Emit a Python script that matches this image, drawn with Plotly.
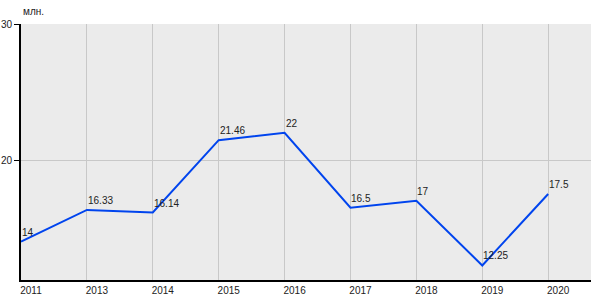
import plotly.graph_objects as go

years = ["2011", "2013", "2014", "2015", "2016", "2017", "2018", "2019", "2020"]
values = [14, 16.33, 16.14, 21.46, 22, 16.5, 17, 12.25, 17.5]
labels = ["14", "16.33", "16.14", "21.46", "22", "16.5", "17", "12.25", "17.5"]
unit = "млн."

fig = go.Figure()
fig.add_trace(go.Scatter(
    x=years, y=values, mode="lines",
    line=dict(color="#0044ee", width=2),
    cliponaxis=False, hoverinfo="skip",
))

annos = [dict(x=i, y=yv, text=t, xref="x", yref="y", xanchor="left", yanchor="bottom",
              xshift=-1, yshift=2, showarrow=False,
              font=dict(family="Liberation Sans, Arial", size=10, color="#222222"))
         for i, (yv, t) in enumerate(zip(values, labels))]
annos.append(dict(text=unit, xref="paper", yref="paper", x=0, y=1, xanchor="left",
                  yanchor="bottom", yshift=5, showarrow=False,
                  font=dict(size=10, color="#222222")))

fig.update_layout(
    width=600, height=300,
    margin=dict(l=21, r=9, t=24, b=20),
    paper_bgcolor="white", plot_bgcolor="#ebebeb",
    showlegend=False,
    font=dict(family="Liberation Sans, Arial", size=10, color="#222222"),
    xaxis=dict(type="category", range=[0, 8.65], showgrid=True, gridcolor="#c8c8c8",
               gridwidth=1, showline=True, linecolor="black", linewidth=2,
               ticks="", tickfont=dict(size=10), ticklabelshift=10,
               zeroline=False, automargin=False),
    yaxis=dict(range=[11.18, 30], tickvals=[20, 30], showgrid=True, gridcolor="#c8c8c8",
               gridwidth=1, showline=True, linecolor="black", linewidth=2,
               ticks="outside", ticklen=5, tickcolor="black", tickfont=dict(size=10),
               zeroline=False, automargin=False),
    annotations=annos,
)

fig.write_html("out.html")
